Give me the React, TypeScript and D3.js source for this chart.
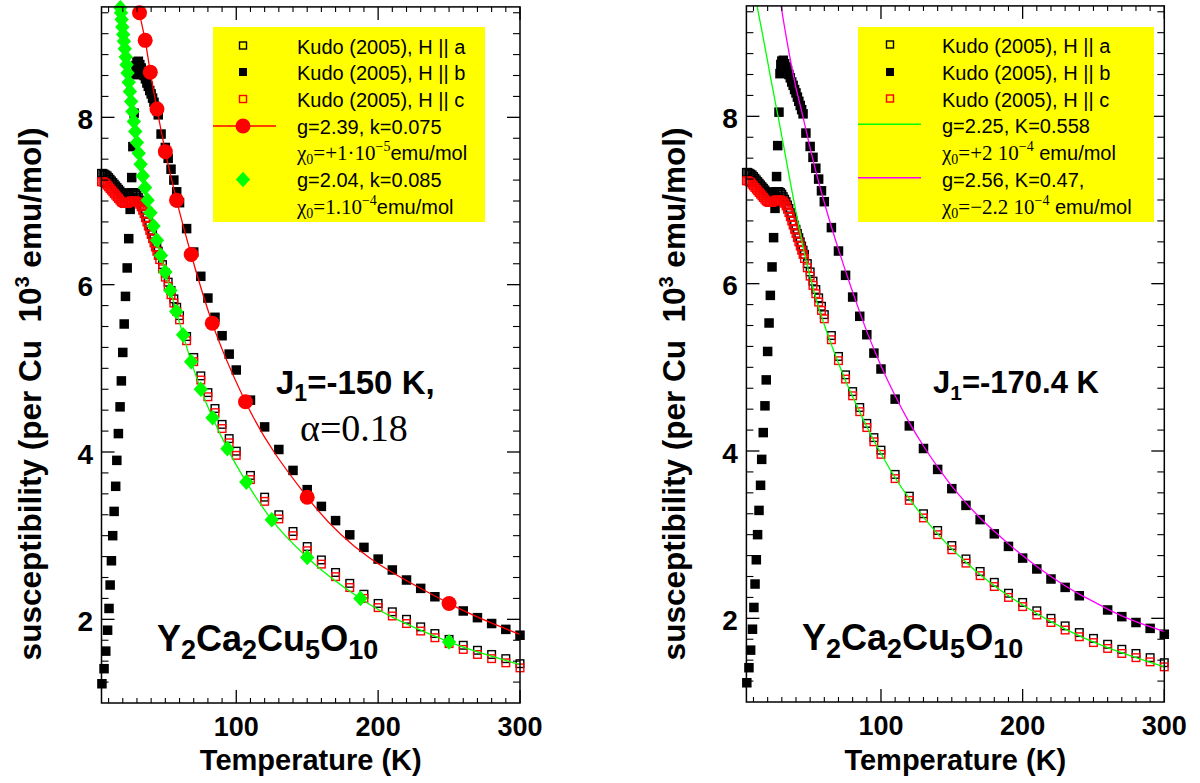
import React from "react";
import * as d3 from "d3";

// ---------------- data (Temperature in K, susceptibility in 10^-3 emu/mol per Cu) ----------------
const T_AC = [
  5, 6, 7, 8, 9, 10, 11, 12, 13, 14, 15, 16, 17, 18, 19, 20, 21, 22, 23, 24, 25, 26, 27, 28, 29, 30,
  31, 32, 33, 34, 35, 36, 37, 38, 39, 40, 41, 42, 43, 44, 45,
  46, 48, 50, 52, 54, 56, 58, 60,
  65, 70, 75, 80, 85, 90, 95, 100,
  110, 120, 130, 140, 150, 160, 170, 180, 190, 200, 210, 220, 230, 240, 250, 260, 270, 280, 290, 300,
];
const CHI_A = [
  7.33, 7.33, 7.32, 7.31, 7.3, 7.28, 7.26, 7.24, 7.22, 7.2, 7.18, 7.16, 7.14, 7.12, 7.1, 7.09, 7.08, 7.08, 7.08, 7.09, 7.1, 7.1, 7.1, 7.1, 7.09, 7.07,
  7.04, 7.01, 6.98, 6.94, 6.9, 6.85, 6.8, 6.75, 6.7, 6.65, 6.6, 6.55, 6.5, 6.45, 6.4,
  6.35, 6.24, 6.14, 6.03, 5.93, 5.83, 5.73, 5.63,
  5.38, 5.13, 4.91, 4.71, 4.52, 4.33, 4.16, 4.01,
  3.72, 3.46, 3.25, 3.05, 2.87, 2.71, 2.56, 2.43, 2.3, 2.19, 2.09, 2.0, 1.91, 1.83, 1.76, 1.69, 1.63, 1.58, 1.53, 1.47,
];
const CHI_C = [
  7.23, 7.23, 7.22, 7.21, 7.19, 7.17, 7.15, 7.13, 7.11, 7.09, 7.07, 7.05, 7.03, 7.01, 6.99, 6.98, 6.97, 6.97, 6.97, 6.98, 6.99, 7.0, 7.0, 7.0, 7.0, 6.99,
  6.98, 6.96, 6.93, 6.89, 6.85, 6.8, 6.75, 6.7, 6.65, 6.6, 6.55, 6.5, 6.45, 6.4, 6.35,
  6.3, 6.19, 6.09, 5.98, 5.88, 5.78, 5.68, 5.58,
  5.33, 5.08, 4.86, 4.66, 4.47, 4.28, 4.11, 3.96,
  3.67, 3.41, 3.2, 3.0, 2.82, 2.66, 2.51, 2.38, 2.25, 2.14, 2.04, 1.95, 1.86, 1.78, 1.71, 1.64, 1.58, 1.53, 1.48, 1.42,
];
const T_B = [
  5.3, 6.8, 8.0, 9.3, 10.3, 11.1, 12.0, 12.9, 13.9, 15.0, 15.8, 16.9, 18.1, 19.0, 20.0, 21.0, 21.9, 23.1, 24.2, 25.2,
  26.3, 27.1, 28.0, 28.7, 29.3, 30, 31, 32, 33, 34, 35, 36, 37, 38, 39, 40, 41, 42, 43, 44,
  45, 47, 50, 52, 54, 56, 58, 60, 65, 70, 75, 80, 85, 90, 95, 100, 110, 120, 130, 140,
  150, 160, 170, 180, 190, 200, 210, 220, 230, 240, 260, 270, 280, 290, 300,
];
const CHI_B = [
  1.23, 1.41, 1.62, 1.87, 2.13, 2.41, 2.7, 3.0, 3.29, 3.59, 3.9, 4.22, 4.54, 4.85, 5.19, 5.53, 5.86, 6.2, 6.55, 6.9,
  7.28, 7.65, 8.05, 8.51, 8.62, 8.66, 8.67, 8.63, 8.59, 8.55, 8.5, 8.46, 8.41, 8.37, 8.32, 8.28, 8.23, 8.18, 8.13, 8.08,
  8.03, 7.8, 7.64, 7.51, 7.38, 7.25, 7.11, 6.98, 6.67, 6.39, 6.1, 5.84, 5.61, 5.39, 5.17, 4.98, 4.62, 4.3, 4.03, 3.78,
  3.55, 3.35, 3.18, 3.01, 2.86, 2.72, 2.59, 2.47, 2.37, 2.27, 2.1, 2.02, 1.95, 1.88, 1.81,
];

// left panel fits
const RED_CIRCLES: [number, number][] = [
  [31.8, 9.25], [35.8, 8.92], [39.4, 8.54], [44.1, 8.1], [50.0, 7.59], [57.9, 7.01],
  [68.2, 6.36], [83.1, 5.54], [106.5, 4.6], [150, 3.46], [250, 2.19],
];
const RED_LINE: [number, number][] = [[30.6, 9.38], ...RED_CIRCLES, [300, 1.82]];

const GREEN_DIAMONDS: [number, number][] = [
  [18.3, 9.31], [18.75, 9.25], [19.2, 9.17], [19.7, 9.08], [20.3, 8.99], [20.8, 8.91], [21.4, 8.82],
  [22.1, 8.72], [22.7, 8.63], [23.4, 8.53], [24.2, 8.42], [25, 8.31], [25.9, 8.19], [26.8, 8.07],
  [27.8, 7.95], [28.8, 7.83], [30, 7.7], [31.25, 7.57], [32.6, 7.44], [34.1, 7.3], [35.7, 7.16],
  [37.5, 7.01], [39.5, 6.86], [41.7, 6.7], [44.1, 6.53], [46.9, 6.35], [50, 6.15], [53.6, 5.93],
  [57.7, 5.68], [62.5, 5.4], [68.2, 5.08], [75, 4.75], [83.3, 4.41], [93.75, 4.04], [107.1, 3.64],
  [125, 3.19], [150, 2.74], [187.5, 2.25], [250, 1.73],
];
const GREEN_LINE_LEFT: [number, number][] = [[17.9, 9.38], ...GREEN_DIAMONDS, [300, 1.46]];

// right panel fits
const GREEN_LINE_RIGHT: [number, number][] = [
  [11.8, 9.38], [17, 8.93], [22, 8.47], [27, 8.03], [32, 7.58], [37, 7.12], [41, 6.77], [45, 6.44],
  [50, 6.08], [55, 5.77], [60, 5.51], [65, 5.27], [70, 5.05], [75, 4.84], [80, 4.65], [90, 4.29],
  [100, 3.97], [110, 3.68], [120, 3.43], [130, 3.21], [140, 3.01], [150, 2.83], [160, 2.67], [170, 2.52],
  [180, 2.39], [190, 2.27], [200, 2.16], [220, 1.96], [240, 1.79], [260, 1.65], [280, 1.53], [300, 1.42],
];
const MAGENTA_LINE: [number, number][] = [
  [29.0, 9.38], [31, 9.16], [33, 8.96], [35, 8.77], [37, 8.59], [40, 8.34], [42, 8.2], [45, 7.99],
  [50, 7.62], [55, 7.28], [60, 6.97], [65, 6.68], [70, 6.41], [75, 6.15], [80, 5.9], [85, 5.66],
  [90, 5.43], [95, 5.22], [100, 5.02], [110, 4.66], [120, 4.34], [130, 4.06], [140, 3.81], [150, 3.58],
  [160, 3.38], [170, 3.2], [180, 3.04], [190, 2.89], [200, 2.75], [210, 2.62], [220, 2.5], [230, 2.39],
  [240, 2.29], [250, 2.2], [260, 2.11], [270, 2.03], [280, 1.96], [290, 1.9], [300, 1.84],
];

// axes
const X_DOMAIN = [5, 300];
const Y_DOMAIN = [1, 9.32];
const X_TICK_LABELS = [100, 200, 300];
const Y_TICK_LABELS = [2, 4, 6, 8];
const X_MINOR_STEP = 10;
const Y_MINOR_STEP = 0.25;

const SANS = "'Liberation Sans', Arial, Helvetica, sans-serif";
const SERIF = "'Liberation Serif', 'Times New Roman', serif";
const RED = "#ff0000";
const GREEN = "#00ff00";
const MAGENTA = "#ff00ff";
const YELLOW = "#ffff00";

type Geo = { x0: number; x1: number; yB: number; yT: number };

const diamondPath = (cx: number, cy: number, w: number, h: number) =>
  `M${cx},${cy - h}L${cx + w},${cy}L${cx},${cy + h}L${cx - w},${cy}Z`;

function Compound({ x, y, size, sub }: { x: number; y: number; size: number; sub: number }) {
  const parts: [string, boolean][] = [
    ["Y", false], ["2", true], ["Ca", false], ["2", true], ["Cu", false], ["5", true], ["O", false], ["10", true],
  ];
  return (
    <text x={x} y={y} fontFamily={SANS} fontWeight="bold" fontSize={size} fill="#000">
      {parts.map(([s, isSub], i) => {
        const prevSub = i > 0 && parts[i - 1][1];
        const dy = isSub && !prevSub ? 8 : !isSub && prevSub ? -8 : 0;
        return (
          <tspan key={i} fontSize={isSub ? sub : size} dy={dy}>
            {s}
          </tspan>
        );
      })}
    </text>
  );
}

function Panel({ geo, id, left }: { geo: Geo; id: string; left: boolean }) {
  const x = d3.scaleLinear().domain(X_DOMAIN).range([geo.x0, geo.x1]);
  const y = d3.scaleLinear().domain(Y_DOMAIN).range([geo.yB, geo.yT]);
  const line = d3
    .line<[number, number]>()
    .x((d) => x(d[0]))
    .y((d) => y(d[1]))
    .curve(d3.curveMonotoneX);

  const xMinor = d3.range(X_DOMAIN[0] + 5, X_DOMAIN[1] + 0.1, X_MINOR_STEP).filter((v) => !X_TICK_LABELS.includes(v));
  const yMinor = d3
    .range(Y_DOMAIN[0] + Y_MINOR_STEP, Y_DOMAIN[1], Y_MINOR_STEP)
    .filter((v) => !Y_TICK_LABELS.some((m) => Math.abs(m - v) < 1e-6));
  const inY = (v: number) => v <= Y_DOMAIN[1] && v >= Y_DOMAIN[0];

  const MAJ = 13;
  const XMIN = 5;
  const YMIN = 7;
  const sqF = 9.5;
  const sqO = 9;

  return (
    <g>
      <defs>
        <clipPath id={id}>
          <rect x={geo.x0} y={geo.yT} width={geo.x1 - geo.x0} height={geo.yB - geo.yT} />
        </clipPath>
      </defs>

      {/* H || a : open black squares */}
      {T_AC.map((t, i) =>
        inY(CHI_A[i]) ? (
          <rect key={"a" + i} x={x(t) - sqO / 2 + 0.7} y={y(CHI_A[i]) - sqO / 2 + 0.7} width={sqO - 1.4} height={sqO - 1.4}
            fill="none" stroke="#000" strokeWidth={1.4} />
        ) : null
      )}
      {/* H || b : filled black squares */}
      {T_B.map((t, i) =>
        inY(CHI_B[i]) ? (
          <rect key={"b" + i} x={x(t) - sqF / 2} y={y(CHI_B[i]) - sqF / 2} width={sqF} height={sqF} fill="#000" />
        ) : null
      )}
      {/* H || c : open red squares */}
      {T_AC.map((t, i) =>
        inY(CHI_C[i]) ? (
          <rect key={"c" + i} x={x(t) - sqO / 2 + 0.7} y={y(CHI_C[i]) - sqO / 2 + 0.7} width={sqO - 1.4} height={sqO - 1.4}
            fill="none" stroke={RED} strokeWidth={1.4} />
        ) : null
      )}

      {left ? (
        <g>
          <path d={line(RED_LINE) || ""} fill="none" stroke={RED} strokeWidth={1.3} clipPath={`url(#${id})`} />
          {RED_CIRCLES.filter((d) => inY(d[1])).map((d, i) => (
            <circle key={"rc" + i} cx={x(d[0])} cy={y(d[1])} r={7.5} fill={RED} />
          ))}
          <path d={line(GREEN_LINE_LEFT) || ""} fill="none" stroke={GREEN} strokeWidth={1.3} clipPath={`url(#${id})`} />
          {GREEN_DIAMONDS.filter((d) => inY(d[1])).map((d, i) => (
            <path key={"gd" + i} d={diamondPath(x(d[0]), y(d[1]), 7.2, 7.8)} fill={GREEN} />
          ))}
        </g>
      ) : (
        <g>
          <path d={line(GREEN_LINE_RIGHT) || ""} fill="none" stroke={GREEN} strokeWidth={1.3} clipPath={`url(#${id})`} />
          <path d={line(MAGENTA_LINE) || ""} fill="none" stroke={MAGENTA} strokeWidth={1.3} clipPath={`url(#${id})`} />
        </g>
      )}

      {/* frame */}
      <rect x={geo.x0} y={geo.yT} width={geo.x1 - geo.x0} height={geo.yB - geo.yT} fill="none" stroke="#000" strokeWidth={1.5} />
      {/* x ticks bottom & top */}
      {X_TICK_LABELS.map((v) => (
        <g key={"xt" + v}>
          <line x1={x(v)} x2={x(v)} y1={geo.yB} y2={geo.yB - MAJ} stroke="#000" strokeWidth={1.3} />
          <line x1={x(v)} x2={x(v)} y1={geo.yT} y2={geo.yT + MAJ} stroke="#000" strokeWidth={1.3} />
          <text x={x(v)} y={geo.yB + 32.5} textAnchor="middle" fontFamily={SANS} fontWeight="bold" fontSize={27}>
            {v}
          </text>
        </g>
      ))}
      {xMinor.map((v) => (
        <g key={"xm" + v}>
          <line x1={x(v)} x2={x(v)} y1={geo.yB} y2={geo.yB - XMIN} stroke="#000" strokeWidth={1.1} />
          <line x1={x(v)} x2={x(v)} y1={geo.yT} y2={geo.yT + XMIN} stroke="#000" strokeWidth={1.1} />
        </g>
      ))}
      {/* y ticks left & right */}
      {Y_TICK_LABELS.map((v) => (
        <g key={"yt" + v}>
          <line x1={geo.x0} x2={geo.x0 + MAJ} y1={y(v)} y2={y(v)} stroke="#000" strokeWidth={1.3} />
          <line x1={geo.x1} x2={geo.x1 - MAJ} y1={y(v)} y2={y(v)} stroke="#000" strokeWidth={1.3} />
          <text x={geo.x0 - 8.5} y={y(v) + 11.5} textAnchor="end" fontFamily={SANS} fontWeight="bold" fontSize={28}>
            {v}
          </text>
        </g>
      ))}
      {yMinor.map((v) => (
        <g key={"ym" + v}>
          <line x1={geo.x0} x2={geo.x0 + YMIN} y1={y(v)} y2={y(v)} stroke="#000" strokeWidth={1.1} />
          <line x1={geo.x1} x2={geo.x1 - YMIN} y1={y(v)} y2={y(v)} stroke="#000" strokeWidth={1.1} />
        </g>
      ))}

      {/* axis titles */}
      <text x={(geo.x0 + geo.x1) / 2} y={770} textAnchor="middle" fontFamily={SANS} fontWeight="bold" fontSize={29}>
        Temperature (K)
      </text>
      <text
        transform={`translate(${geo.x0 - 61},394) rotate(-90)`}
        textAnchor="middle"
        fontFamily={SANS}
        fontWeight="bold"
        fontSize={31.5}
        style={{ whiteSpace: "pre" }}
      >
        {"susceptibility (per Cu  10"}
        <tspan fontSize={20} dy={-12}>
          3
        </tspan>
        <tspan dy={12}>{" emu/mol)"}</tspan>
      </text>
    </g>
  );
}

function LegendSym({ kind, cx, cy }: { kind: string; cx: number; cy: number }) {
  if (kind === "a") return <rect x={cx - 3.5} y={cy - 3.5} width={7} height={7} fill="none" stroke="#000" strokeWidth={1.4} />;
  if (kind === "b") return <rect x={cx - 4} y={cy - 4} width={8} height={8} fill="#000" />;
  if (kind === "c") return <rect x={cx - 3.5} y={cy - 3.5} width={7} height={7} fill="none" stroke={RED} strokeWidth={1.4} />;
  return null;
}

const LEG_A = "Kudo (2005), H || a";
const LEG_B = "Kudo (2005), H || b";
const LEG_C = "Kudo (2005), H || c";

function LegendText({ x, y, children }: { x: number; y: number; children: React.ReactNode }) {
  return (
    <text x={x} y={y} fontFamily={SANS} fontSize={20} fill="#000" style={{ whiteSpace: "pre" }}>
      {children}
    </text>
  );
}

function Chi({ x, y, pre, exp, post }: { x: number; y: number; pre: string; exp: string; post: string }) {
  return (
    <text x={x} y={y} fontFamily={SERIF} fontSize={21} fill="#000" style={{ whiteSpace: "pre" }}>
      χ
      <tspan fontSize={14} dy={4}>0</tspan>
      <tspan dy={-4}>{pre}</tspan>
      <tspan fontSize={14} dy={-9}>{exp}</tspan>
      <tspan fontFamily={SANS} fontSize={20} dy={9}>{post}</tspan>
    </text>
  );
}

export default function App() {
  const leftGeo: Geo = { x0: 101.5, x1: 520, yB: 703, yT: 6.9 };
  const rightGeo: Geo = { x0: 746.4, x1: 1164.3, yB: 702, yT: 5.9 };

  const lRows = [53.5, 80, 107, 133.5, 160, 187, 213.5];
  const rRows = [52.5, 80, 106.5, 133, 159.5, 186.5, 213.5];

  return (
    <svg width={1200} height={783} style={{ position: "absolute", left: 0, top: 0, background: "#fff" }}>
      <rect x={0} y={0} width={1200} height={783} fill="#fff" />
      <Panel geo={leftGeo} id="clipL" left={true} />
      <Panel geo={rightGeo} id="clipR" left={false} />

      {/* left legend */}
      <rect x={213} y={27} width={272} height={195} fill={YELLOW} />
      <LegendSym kind="a" cx={243} cy={lRows[0] - 8} />
      <LegendSym kind="b" cx={243} cy={lRows[1] - 8} />
      <LegendSym kind="c" cx={243} cy={lRows[2] - 8} />
      <line x1={213} x2={276} y1={lRows[3] - 7.5} y2={lRows[3] - 7.5} stroke={RED} strokeWidth={1.3} />
      <circle cx={243} cy={lRows[3] - 7.5} r={7.5} fill={RED} />
      <path d={diamondPath(243, lRows[5] - 7.5, 7.2, 7.8)} fill={GREEN} />
      <LegendText x={297} y={lRows[0]}>{LEG_A}</LegendText>
      <LegendText x={297} y={lRows[1]}>{LEG_B}</LegendText>
      <LegendText x={297} y={lRows[2]}>{LEG_C}</LegendText>
      <LegendText x={297} y={lRows[3]}>g=2.39, k=0.075</LegendText>
      <Chi x={297} y={lRows[4]} pre="=+1·10" exp="−5" post="emu/mol" />
      <LegendText x={297} y={lRows[5]}>g=2.04, k=0.085</LegendText>
      <Chi x={297} y={lRows[6]} pre="=1.10" exp="−4" post="emu/mol" />

      {/* right legend */}
      <rect x={858} y={27} width={296} height={195} fill={YELLOW} />
      <LegendSym kind="a" cx={890} cy={rRows[0] - 8} />
      <LegendSym kind="b" cx={890} cy={rRows[1] - 8} />
      <LegendSym kind="c" cx={890} cy={rRows[2] - 8} />
      <line x1={858} x2={921} y1={124.3} y2={124.3} stroke={GREEN} strokeWidth={1.5} />
      <line x1={858} x2={921} y1={177.7} y2={177.7} stroke={MAGENTA} strokeWidth={1.5} />
      <LegendText x={942} y={rRows[0]}>{LEG_A}</LegendText>
      <LegendText x={942} y={rRows[1]}>{LEG_B}</LegendText>
      <LegendText x={942} y={rRows[2]}>{LEG_C}</LegendText>
      <LegendText x={942} y={rRows[3]}>g=2.25, K=0.558</LegendText>
      <Chi x={942} y={rRows[4]} pre="=+2 10" exp="−4" post=" emu/mol" />
      <LegendText x={942} y={rRows[5]}>g=2.56, K=0.47,</LegendText>
      <Chi x={942} y={rRows[6]} pre="=−2.2 10" exp="−4" post=" emu/mol" />

      {/* annotations */}
      <text x={276} y={394} fontFamily={SANS} fontWeight="bold" fontSize={33} style={{ whiteSpace: "pre" }}>
        J<tspan fontSize={23} dy={7}>1</tspan>
        <tspan dy={-7}>=-150 K,</tspan>
      </text>
      <text x={300} y={441} fontFamily={SERIF} fontSize={38}>
        α=0.18
      </text>
      <text x={933} y={393} fontFamily={SANS} fontWeight="bold" fontSize={31} style={{ whiteSpace: "pre" }}>
        J<tspan fontSize={21} dy={7}>1</tspan>
        <tspan dy={-7}>=-170.4 K</tspan>
      </text>
      <Compound x={157} y={651} size={36} sub={27} />
      <Compound x={802} y={650} size={36} sub={27} />
    </svg>
  );
}
